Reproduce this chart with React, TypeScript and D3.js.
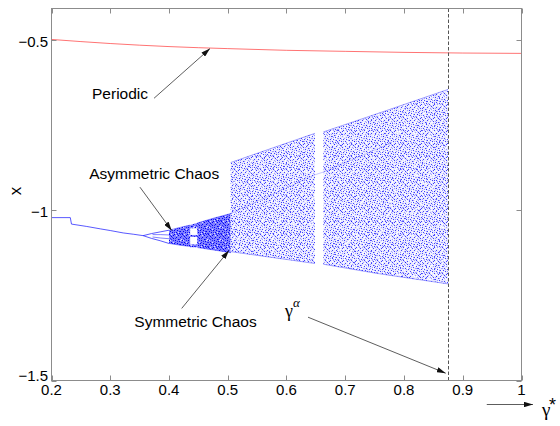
import React from 'react';
import * as d3 from 'd3';

// bifurcation diagram: x vs gamma

const xTicks = [0.2, 0.3, 0.4, 0.5, 0.6, 0.7, 0.8, 0.9, 1];
const xTickLabels = ['0.2', '0.3', '0.4', '0.5', '0.6', '0.7', '0.8', '0.9', '1'];
const yTicks = [-1.5, -1, -0.5];
const yTickLabels = ['\u22121.5', '\u22121', '\u22120.5'];

// periodic orbit (red)
const periodicGamma = [0.2, 0.3, 0.4, 0.5, 0.6, 0.7, 0.8, 0.9, 1.0];
const periodicX = [-0.497, -0.509, -0.518, -0.524, -0.529, -0.532, -0.535, -0.537, -0.538];

// symmetric fixed branch (blue)
const symGamma = [0.2, 0.232, 0.234, 0.26, 0.283, 0.3, 0.322, 0.34, 0.356];
const symX = [-1.021, -1.021, -1.040, -1.047, -1.054, -1.059, -1.066, -1.070, -1.074];

// asymmetric pair after the split
const asymGamma = [0.356, 0.37, 0.385, 0.4];
const asymUpper = [-1.074, -1.068, -1.063, -1.058];
const asymLower = [-1.074, -1.082, -1.089, -1.097];
const asymInnerGamma = [0.372, 0.386, 0.4];
const asymInnerUpper = [-1.071, -1.071, -1.072];
const asymInnerLower = [-1.078, -1.081, -1.083];

// chaotic bands: gamma, upper and lower envelope of x
const chaosA_gamma = [0.4, 0.418, 0.436];
const chaosA_hi = [-1.058, -1.050, -1.043];
const chaosA_lo = [-1.097, -1.102, -1.106];

const chaosB_gamma = [0.448, 0.475, 0.505];
const chaosB_hi = [-1.037, -1.023, -1.009];
const chaosB_lo = [-1.109, -1.116, -1.124];

const chaosC_gamma = [0.505, 0.55, 0.6, 0.6485];
const chaosC_hi = [-0.859, -0.832, -0.802, -0.773];
const chaosC_lo = [-1.121, -1.132, -1.144, -1.156];

const chaosD_gamma = [0.6627, 0.75, 0.875];
const chaosD_hi = [-0.769, -0.718, -0.644];
const chaosD_lo = [-1.158, -1.184, -1.216];

// small periodic window inside the early chaos
const windowGamma = [0.436, 0.448];
const windowBandsHi = [-1.043, -1.072, -1.100];
const windowBandsLo = [-1.052, -1.078, -1.108];

// faint inner structure in the big band
const innerGamma = [0.505, 0.6485, 0.6627, 0.78];
const innerX = [-1.009, -0.895, -0.887, -0.80];

const gammaCritical = 0.875;

// annotations: [gamma, x] of label anchor, arrow start, arrow tip
const annotations = [
  { text: 'Periodic', label: [0.3643, -0.671], anchor: 'end', from: [0.3745, -0.670], to: [0.4698, -0.524] },
  { text: 'Asymmetric Chaos', label: [0.3748, -0.906], anchor: 'middle', from: [0.3506, -0.9315], to: [0.4046, -1.0588] },
  { text: 'Symmetric Chaos', label: [0.4451, -1.344], anchor: 'middle', from: [0.4216, -1.288], to: [0.5021, -1.1176] },
];
const gammaAlphaArrow = { from: [0.6366, -1.3138], to: [0.871, -1.4785] };
const gammaStarArrow = { from: [0.9409, -1.5706], to: [1.0196, -1.5706] };

const FONT = '"Liberation Sans", Arial, sans-serif';

// stipple texture for the chaotic cloud (style only)
const darkDots = [[0, 0], [5, 0], [9, 1], [2, 2], [7, 3], [11, 3], [4, 4], [0, 6], [9, 5], [6, 6], [2, 8], [10, 7],
  [5, 9], [8, 9], [1, 10], [3, 11], [11, 10], [7, 11], [4, 1], [10, 12]];
const midDots = [[1, 1], [8, 0], [3, 3], [12, 2], [6, 4], [1, 4], [10, 5], [4, 6], [8, 7], [0, 8], [12, 8], [6, 8],
  [3, 9], [10, 10], [5, 11], [0, 12], [8, 12], [12, 12], [2, 5], [11, 0]];
const whiteDots = [[2, 0], [7, 1], [12, 5], [4, 8], [9, 11], [1, 6], [6, 12], [11, 6], [3, 5], [7, 9], [10, 2], [0, 3],
  [5, 2], [12, 10], [2, 12], [9, 8]];

export default function App() {
  const x = d3.scaleLinear().domain([0.2, 1]).range([51.5, 521.5]);
  const y = d3.scaleLinear().domain([-1.5, -0.406]).range([380.5, 8.5]);
  const [x0, x1] = x.range();
  const [yb, yt] = y.range();

  const line = (gs: number[], vs: number[]) =>
    d3.line<number>().x((_, i) => x(gs[i])).y(v => y(v))(vs) || '';
  const area = (gs: number[], hi: number[], lo: number[]) =>
    d3.area<number>().x(g => x(g)).y0((_, i) => y(lo[i])).y1((_, i) => y(hi[i]))(gs) || '';

  const chaos = [
    { g: chaosA_gamma, hi: chaosA_hi, lo: chaosA_lo, dense: true },
    { g: chaosB_gamma, hi: chaosB_hi, lo: chaosB_lo, dense: true },
    { g: chaosC_gamma, hi: chaosC_hi, lo: chaosC_lo, dense: false },
    { g: chaosD_gamma, hi: chaosD_hi, lo: chaosD_lo, dense: false },
  ];

  return (
    <svg width={560} height={426} style={{ position: 'absolute', left: 0, top: 0, background: '#fff' }}>
      <defs>
        <pattern id="sparse" width={13} height={13} patternUnits="userSpaceOnUse">
          <rect width={13} height={13} fill="#e8e8ff" />
          {midDots.map(([a, b], i) => (
            <rect key={'m' + i} x={a} y={b} width={1} height={1} fill="#a0a0ff" />
          ))}
          {darkDots.map(([a, b], i) => (
            <rect key={'d' + i} x={a} y={b} width={1} height={1} fill="#4040ff" />
          ))}
          {whiteDots.map(([a, b], i) => (
            <rect key={'w' + i} x={a} y={b} width={1} height={1} fill="#ffffff" />
          ))}
        </pattern>
        <pattern id="speck" width={17} height={11} patternUnits="userSpaceOnUse">
          {[[1, 2], [11, 1], [14, 9], [9, 4]].map(([a, b], i) => (
            <rect key={i} x={a} y={b} width={1} height={1} fill="#0000ff" opacity={0.6} />
          ))}
          {[[4, 4], [13, 6], [8, 10], [0, 7], [6, 1], [16, 3]].map(([a, b], i) => (
            <rect key={'w' + i} x={a} y={b} width={1} height={1} fill="#ffffff" />
          ))}
        </pattern>
        <pattern id="dense" width={13} height={13} patternUnits="userSpaceOnUse">
          <rect width={13} height={13} fill="#8080ff" />
          {darkDots.map(([a, b], i) => (
            <rect key={'d' + i} x={a} y={b} width={1} height={1} fill="#0000ee" />
          ))}
          {midDots.map(([a, b], i) => (
            <rect key={'m' + i} x={a} y={b} width={1} height={1} fill="#2a2aff" />
          ))}
          {whiteDots.slice(0, 8).map(([a, b], i) => (
            <rect key={'w' + i} x={a} y={b} width={1} height={1} fill="#dcdcff" />
          ))}
        </pattern>
        <marker id="arr" viewBox="0 0 10 6" refX={10} refY={3} markerWidth={9} markerHeight={5.5} markerUnits="userSpaceOnUse" orient="auto">
          <path d="M0,0 L10,3 L0,6 Z" fill="#111" />
        </marker>
      </defs>

      {/* chaotic bands */}
      {chaos.map((c, i) => (
        <g key={i}>
          <path d={area(c.g, c.hi, c.lo)} fill={c.dense ? 'url(#dense)' : 'url(#sparse)'} />
          {!c.dense && <path d={area(c.g, c.hi, c.lo)} fill="url(#speck)" />}
          <path d={line(c.g, c.hi)} fill="none" stroke="#0000ff" strokeOpacity={0.4} strokeWidth={0.9} />
          <path d={line(c.g, c.lo)} fill="none" stroke="#0000ff" strokeOpacity={0.4} strokeWidth={0.9} />
        </g>
      ))}
      {windowBandsHi.map((h, i) => (
        <path key={i}
          d={area(windowGamma, [h, i === 0 ? chaosB_hi[0] : h], [windowBandsLo[i], windowBandsLo[i]])}
          fill="url(#dense)" />
      ))}
      <path d={line(innerGamma, innerX)} fill="none" stroke="#0000ff" strokeOpacity={0.22} strokeWidth={1} />

      {/* periodic branches */}
      <path d={line(symGamma, symX)} fill="none" stroke="#0000ff" strokeOpacity={0.65} strokeWidth={1} />
      <path d={line(asymGamma, asymUpper)} fill="none" stroke="#0000ff" strokeOpacity={0.65} strokeWidth={1} />
      <path d={line(asymGamma, asymLower)} fill="none" stroke="#0000ff" strokeOpacity={0.65} strokeWidth={1} />
      <path d={line(asymInnerGamma, asymInnerUpper)} fill="none" stroke="#0000ff" strokeOpacity={0.55} strokeWidth={0.9} />
      <path d={line(asymInnerGamma, asymInnerLower)} fill="none" stroke="#0000ff" strokeOpacity={0.55} strokeWidth={0.9} />
      <path d={d3.line<number>().x((_, i) => x(periodicGamma[i])).y(v => y(v)).curve(d3.curveMonotoneX)(periodicX) || ''}
        fill="none" stroke="#ff0000" strokeOpacity={0.55} strokeWidth={1} />

      {/* critical gamma */}
      <line x1={Math.round(x(gammaCritical)) + 0.5} x2={Math.round(x(gammaCritical)) + 0.5} y1={yt} y2={yb}
        stroke="#555" strokeWidth={1} strokeDasharray="3.5,2" />

      {/* axes box */}
      <rect x={x0} y={yt} width={x1 - x0} height={yb - yt} fill="none" stroke="#8c8c8c" strokeWidth={1} />
      {xTicks.map((t, i) => (
        <g key={i}>
          <line x1={Math.round(x(t)) + 0.5} x2={Math.round(x(t)) + 0.5} y1={yb} y2={yb - 5} stroke="#8c8c8c" />
          <line x1={Math.round(x(t)) + 0.5} x2={Math.round(x(t)) + 0.5} y1={yt} y2={yt + 5} stroke="#8c8c8c" />
          <text x={x(t)} y={395} textAnchor="middle" fontFamily={FONT} fontSize={15} fill="#000">
            {xTickLabels[i]}
          </text>
        </g>
      ))}
      {yTicks.map((t, i) => (
        <g key={i}>
          <line x1={x0} x2={x0 + 5} y1={Math.round(y(t)) + 0.5} y2={Math.round(y(t)) + 0.5} stroke="#8c8c8c" />
          <line x1={x1} x2={x1 - 5} y1={Math.round(y(t)) + 0.5} y2={Math.round(y(t)) + 0.5} stroke="#8c8c8c" />
          <text x={48} y={y(t) + (t === -1.5 ? -5 : 1)} textAnchor="end" dominantBaseline="central" fontFamily={FONT} fontSize={15} fill="#000">
            {yTickLabels[i]}
          </text>
        </g>
      ))}
      <text x={15} y={191} textAnchor="middle" dominantBaseline="central" fontFamily={FONT} fontSize={17}
        transform="rotate(-90 15 191)">x</text>

      {/* annotations */}
      {annotations.map((a, i) => (
        <g key={i}>
          <text x={x(a.label[0])} y={y(a.label[1])} textAnchor={a.anchor} fontFamily={FONT} fontSize={15.5} fill="#000">
            {a.text}
          </text>
          <line x1={x(a.from[0])} y1={y(a.from[1])} x2={x(a.to[0])} y2={y(a.to[1])}
            stroke="#333" strokeWidth={0.8} markerEnd="url(#arr)" />
        </g>
      ))}
      <line x1={x(gammaAlphaArrow.from[0])} y1={y(gammaAlphaArrow.from[1])} x2={x(gammaAlphaArrow.to[0])} y2={y(gammaAlphaArrow.to[1])}
        stroke="#333" strokeWidth={0.8} markerEnd="url(#arr)" />
      <text x={285} y={316.5} fontFamily='"Liberation Serif", serif' fontSize={18}>γ</text>
      <text x={293} y={307} fontFamily='"Liberation Serif", serif' fontStyle="italic" fontSize={13}>α</text>

      <line x1={x(gammaStarArrow.from[0])} y1={y(gammaStarArrow.from[1])} x2={x(gammaStarArrow.to[0])} y2={y(gammaStarArrow.to[1])}
        stroke="#333" strokeWidth={0.8} markerEnd="url(#arr)" />
      <text x={542} y={416} fontFamily='"Liberation Serif", serif' fontSize={19}>γ</text>
      <text x={549} y={410.5} fontFamily={FONT} fontSize={18}>*</text>
    </svg>
  );
}
